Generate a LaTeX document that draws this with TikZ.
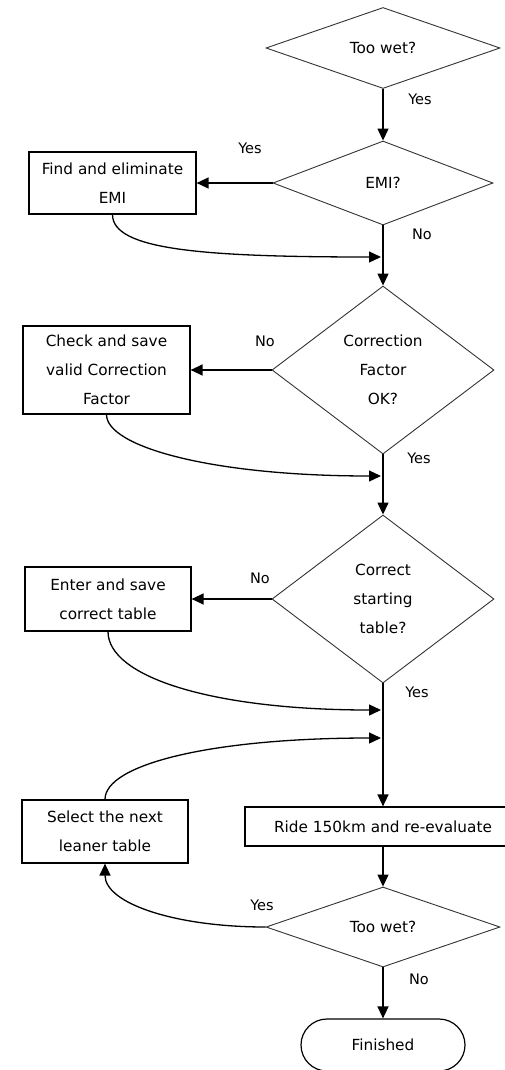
\documentclass[tikz,border=0pt]{standalone}
\usepackage{fontspec}
\setmainfont{DejaVu Sans}
\usetikzlibrary{shapes.geometric,shapes.misc,arrows.meta}
\begin{document}
\begin{tikzpicture}[x=1pt,y=-1pt,
  font=\fontsize{15.3}{29}\selectfont,
  dec/.style={draw=black!80, diamond, inner sep=0pt, line width=0.9pt, align=center},
  proc/.style={draw, rectangle, inner sep=0pt, line width=1.2pt, align=center},
  term/.style={draw, rounded rectangle, inner sep=0pt, line width=1.2pt},
  arr/.style={line width=1.3pt, -{Triangle[length=12pt,width=11pt]}},
  lbl/.style={inner sep=0pt, font=\fontsize{14.5}{16}\selectfont}]
\useasboundingbox (0,0) rectangle (504,1070);
% decisions
\node[dec, minimum width=234pt, minimum height=81pt, aspect=2.9] (d1) at (383,48) {Too wet?};
\node[dec, minimum width=220pt, minimum height=84pt, aspect=2.6] (d2) at (383,183) {EMI?};
\node[dec, minimum width=222pt, minimum height=168pt, aspect=1.32] (d3) at (383,370) {Correction\\Factor\\OK?};
\node[dec, minimum width=222pt, minimum height=168pt, aspect=1.32] (d4) at (383,599) {Correct\\starting\\table?};
\node[dec, minimum width=234pt, minimum height=80pt, aspect=2.9] (d5) at (383,927) {Too wet?};
% processes
\node[proc, minimum width=167pt, minimum height=62pt] (b1) at (112.5,183) {Find and eliminate\\EMI};
\node[proc, minimum width=167pt, minimum height=88pt] (b2) at (106.5,370) {Check and save\\valid Correction\\Factor};
\node[proc, minimum width=166pt, minimum height=64pt] (b3) at (108,599) {Enter and save\\correct table};
\node[proc, minimum width=166pt, minimum height=63pt] (b4) at (105,831.5) {Select the next\\leaner table};
\node[proc, minimum width=276pt, minimum height=39pt] (b5) at (383,826.5) {Ride 150km and re-evaluate};
\node[term, minimum width=164pt, minimum height=52pt] (t) at (383,1045) {Finished};
% merge points
\coordinate (m1) at (381,257);
\coordinate (m2) at (381,476);
\coordinate (m3) at (381,710);
\coordinate (m4) at (381,738);
% connectors
\draw[arr] (d1.south) -- (d2.north);
\draw[arr] (d2.west) -- (b1.east);
\draw[arr] (d2.south) -- (d3.north);
\draw[arr] (b1.south) .. controls +(0,35) and +(-180,0) .. (m1);
\draw[arr] (d3.west) -- (b2.east);
\draw[arr] (d3.south) -- (d4.north);
\draw[arr] (b2.south) .. controls +(0,32) and +(-170,0) .. (m2);
\draw[arr] (d4.west) -- (b3.east);
\draw[arr] (d4.south) -- (b5.north);
\draw[arr] (b3.south) .. controls +(0,45) and +(-170,0) .. (m3);
\draw[arr] (b4.north) .. controls +(0,-35) and +(-170,0) .. (m4);
\draw[arr] (b5.south) -- (d5.north);
\draw[arr] (d5.west) .. controls +(-90,0) and +(0,40) .. (b4.south);
\draw[arr] (d5.south) -- (t.north);
% labels
\node[lbl] (l1) at (420,99) {Yes};
\node[lbl] (l2) at (250,148) {Yes};
\node[lbl] (l3) at (422,234) {No};
\node[lbl] (l4) at (265,341) {No};
\node[lbl] (l5) at (419,458) {Yes};
\node[lbl] (l6) at (260,578) {No};
\node[lbl] (l7) at (417,692) {Yes};
\node[lbl] (l8) at (262,905) {Yes};
\node[lbl] (l9) at (419,979) {No};
\end{tikzpicture}
\end{document}
